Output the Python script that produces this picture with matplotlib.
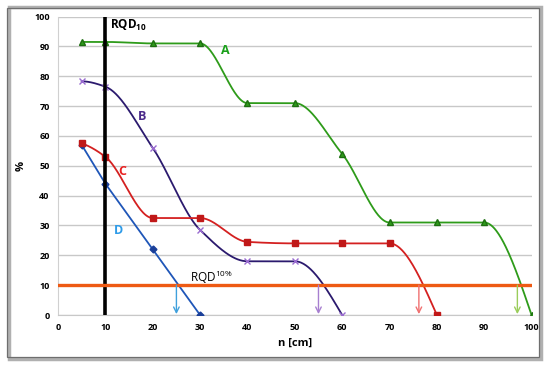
import matplotlib
matplotlib.use("Agg")
import matplotlib.pyplot as plt
import numpy as np
from matplotlib.patches import Rectangle

# data
n_a = [5, 10, 20, 30, 40, 50, 60, 70, 80, 90, 100]
rqd_a = [91.5, 91.5, 91, 91, 71, 71, 54, 31, 31, 31, 0]
n_b = [5, 10, 20, 30, 40, 50, 60]
rqd_b = [78.3, 76.5, 56, 28.5, 18, 18, 0]
n_c = [5, 10, 20, 30, 40, 50, 60, 70, 80]
rqd_c = [57.5, 53, 32.5, 32.5, 24.5, 24, 24, 24, 0]
n_d = [5, 10, 20, 30]
rqd_d = [57, 44, 22, 0]
# where each curve crosses RQD 10%
cross_n = [25, 55, 76.2, 97]
cross_colors = ["#3fa0dc", "#a77fd0", "#f07070", "#9acd5a"]

FONT = "Open Sans"


def pchip(x, y, per=60):
    x = np.asarray(x, float)
    y = np.asarray(y, float)
    h = np.diff(x)
    dl = np.diff(y) / h
    d = np.zeros_like(y)
    for k in range(1, len(x) - 1):
        if dl[k - 1] * dl[k] > 0:
            w1 = 2 * h[k] + h[k - 1]
            w2 = h[k] + 2 * h[k - 1]
            d[k] = (w1 + w2) / (w1 / dl[k - 1] + w2 / dl[k])

    def end(h0, h1, d0, d1):
        v = ((2 * h0 + h1) * d0 - h0 * d1) / (h0 + h1)
        if np.sign(v) != np.sign(d0):
            return 0.0
        if np.sign(d0) != np.sign(d1) and abs(v) > 3 * abs(d0):
            return 3 * d0
        return v

    d[0] = end(h[0], h[1], dl[0], dl[1])
    d[-1] = end(h[-1], h[-2], dl[-1], dl[-2])
    xs, ys = [], []
    for k in range(len(h)):
        t = np.linspace(0, 1, per)
        h00 = 2 * t**3 - 3 * t**2 + 1
        h10 = t**3 - 2 * t**2 + t
        h01 = -2 * t**3 + 3 * t**2
        h11 = t**3 - t**2
        xs.append(x[k] + t * h[k])
        ys.append(h00 * y[k] + h10 * h[k] * d[k] + h01 * y[k + 1] + h11 * h[k] * d[k + 1])
    return np.concatenate(xs), np.concatenate(ys)


plt.rcParams["font.family"] = [FONT, "DejaVu Sans"]
plt.rcParams["mathtext.fontset"] = "custom"
plt.rcParams["mathtext.rm"] = FONT
plt.rcParams["mathtext.bf"] = FONT + ":bold"

fig = plt.figure(figsize=(5.5, 3.68), dpi=100)
fig.patches.append(Rectangle((0.016, 0.025), 0.968, 0.955, transform=fig.transFigure,
                             fill=False, edgecolor="#b0b0b0", lw=2.5, zorder=0))
fig.patches.append(Rectangle((0.012, 0.03), 0.968, 0.948, transform=fig.transFigure,
                             fill=False, edgecolor="#6e6e6e", lw=0.9, zorder=1))
ax = fig.add_axes([0.1055, 0.144, 0.861, 0.811])

ax.set_xlim(0, 100)
ax.set_ylim(0, 100)
ax.set_xticks(range(0, 101, 10))
ax.set_yticks(range(0, 101, 10))
ax.grid(axis="y", color="#c8c8c8", lw=1)
ax.set_axisbelow(True)
for s in ["top", "right"]:
    ax.spines[s].set_visible(False)
ax.spines["left"].set_color("#d0d0d0")
ax.spines["bottom"].set_color("#c8c8c8")
ax.tick_params(length=0, labelsize=6.5, pad=6)
for lab in ax.get_xticklabels() + ax.get_yticklabels():
    lab.set_fontweight("bold")

# curves
xa, ya = pchip(n_a, rqd_a)
ax.plot(xa, ya, color="#2e9b1a", lw=1.3, zorder=4)
ax.plot(n_a, rqd_a, ls="none", marker="^", ms=5, color="#2e9b1a", mec="#1d6e10", zorder=5)
xb, yb = pchip(n_b, rqd_b)
ax.plot(xb, yb, color="#2b1a6e", lw=1.3, zorder=4)
ax.plot(n_b, rqd_b, ls="none", marker="x", ms=4.5, mew=1, color="#9a6cd0", zorder=5)
xc, yc = pchip(n_c, rqd_c)
ax.plot(xc, yc, color="#d42020", lw=1.3, zorder=4)
ax.plot(n_c, rqd_c, ls="none", marker="s", ms=4.5, color="#c01818", zorder=5)
ax.plot(n_d, rqd_d, color="#1f56b8", lw=1.3, marker="D", ms=3.5, mfc="#1a3f99",
        mec="#1a3f99", zorder=4)

# reference lines
ax.axvline(10, color="black", lw=2.6, zorder=6)
ax.axhline(9.6, color="#8fd0f0", lw=1.2, zorder=5)
ax.axhline(10, color="#ee5a14", lw=2.4, zorder=6)

for xv, c in zip(cross_n, cross_colors):
    ax.annotate("", xy=(xv, 0.3), xytext=(xv, 10),
                arrowprops=dict(arrowstyle="->", color=c, lw=1, shrinkA=0, shrinkB=0), zorder=7)

ax.text(11, 96, "RQD$_\\mathbf{10}$", fontsize=8.5, fontweight="bold", zorder=7)
ax.text(27.8, 10.9, "RQD$^{10\\%}$", fontsize=8.5, zorder=7)
ax.text(34.5, 87.5, "A", color="#1aa01a", fontsize=9, fontweight="bold")
ax.text(16.8, 65.5, "B", color="#4b2a8a", fontsize=9, fontweight="bold")
ax.text(12.8, 47, "C", color="#e82020", fontsize=9, fontweight="bold")
ax.text(11.8, 27.3, "D", color="#2e9be8", fontsize=9, fontweight="bold")

ax.set_ylabel("%", fontsize=8, fontweight="bold", labelpad=5)
ax.set_xlabel("n [cm]", fontsize=8, fontweight="bold", labelpad=4)

fig.savefig("out.png", dpi=100)
